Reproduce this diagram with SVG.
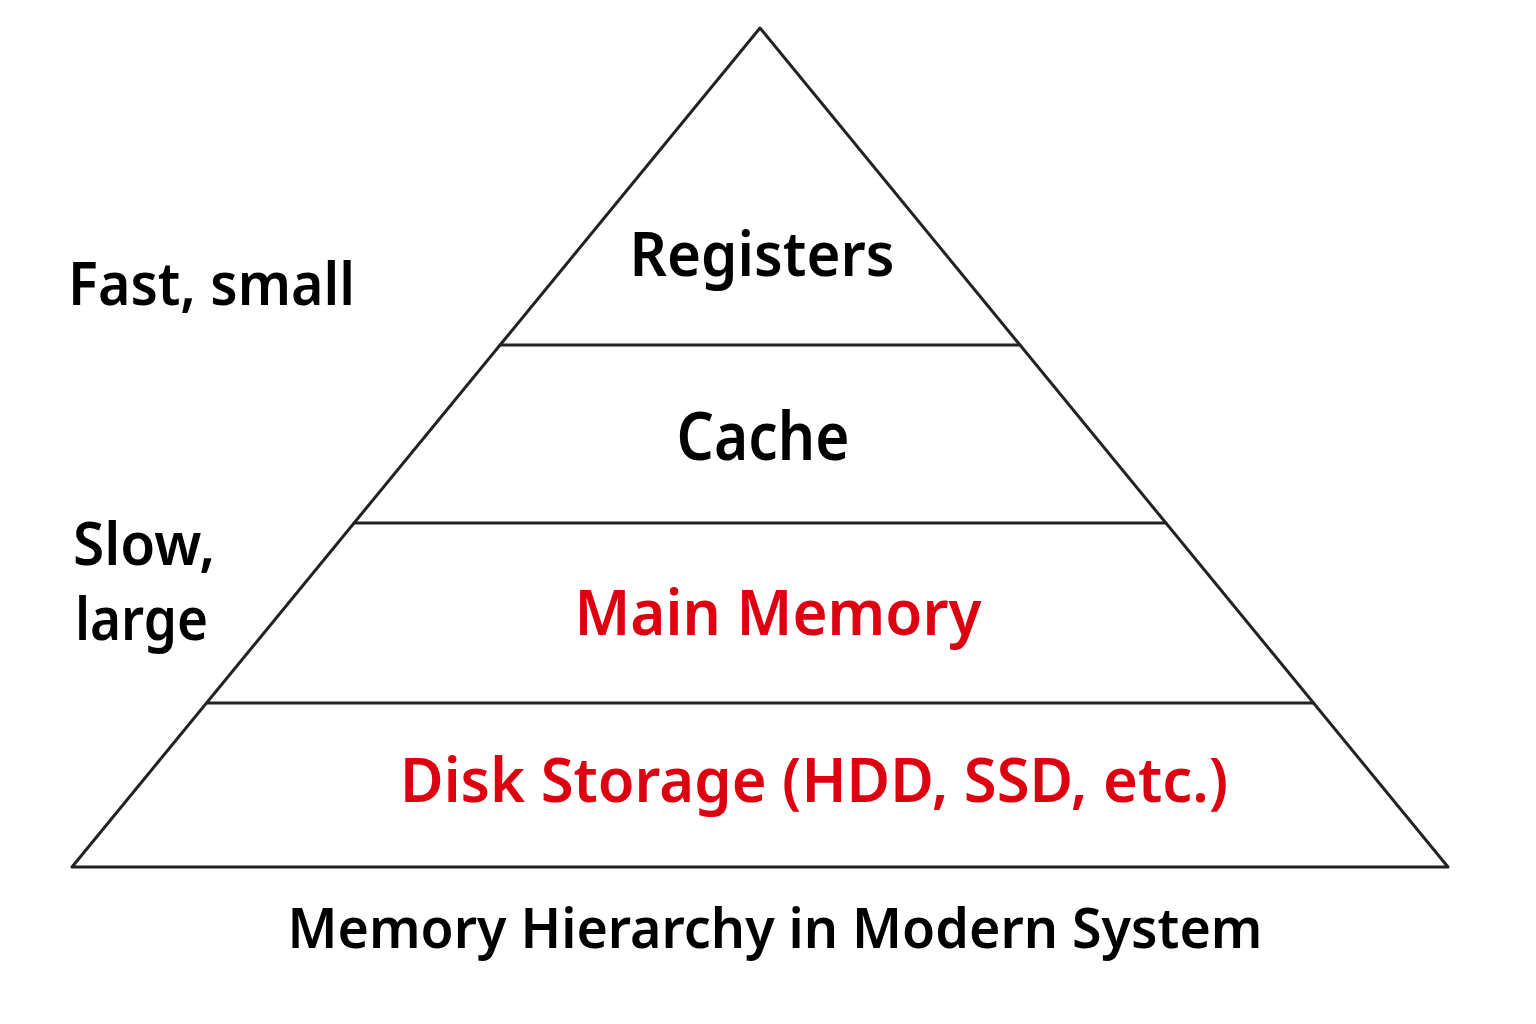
<svg xmlns="http://www.w3.org/2000/svg" width="1536" height="1024" viewBox="0 0 1536 1024">
<style>
.t{font-family:"Noto Sans","Open Sans","DejaVu Sans",sans-serif;font-weight:600;fill:#000}
.r{fill:#dd0010}
.m{text-anchor:middle}
.ln{stroke:#222;stroke-width:3;fill:none;stroke-linecap:round;stroke-linejoin:round}
</style>
<rect width="1536" height="1024" fill="#fff"/>
<g id="pyramid">
<polygon class="ln" points="760,28 72,867 1448,867"/>
</g>
<g id="connectors">
<line class="ln" x1="500" y1="345" x2="1020" y2="345"/>
<line class="ln" x1="354" y1="523" x2="1166" y2="523"/>
<line class="ln" x1="207" y1="703" x2="1313" y2="703"/>
</g>
<g id="registers"><text class="t m" x="762" y="276" font-size="62" textLength="265" lengthAdjust="spacingAndGlyphs">Registers</text></g>
<g id="cache"><text class="t m" x="763" y="460" font-size="66" textLength="173" lengthAdjust="spacingAndGlyphs">Cache</text></g>
<g id="main-memory"><text class="t r m" x="778" y="635" font-size="64" textLength="407" lengthAdjust="spacingAndGlyphs">Main Memory</text></g>
<g id="disk-storage"><text class="t r m" x="814" y="802" font-size="62" textLength="828" lengthAdjust="spacingAndGlyphs">Disk Storage (HDD, SSD, etc.)</text></g>
<g id="fast-small"><text class="t" x="68" y="305" font-size="60" textLength="287" lengthAdjust="spacingAndGlyphs">Fast, small</text></g>
<g id="slow-large"><text class="t" x="73" y="565" font-size="60" textLength="142" lengthAdjust="spacingAndGlyphs">Slow,</text><text class="t" x="75" y="640" font-size="60" textLength="133" lengthAdjust="spacingAndGlyphs">large</text></g>
<g id="title"><text class="t m" x="775" y="948" font-size="56" textLength="975" lengthAdjust="spacingAndGlyphs">Memory Hierarchy in Modern System</text></g>
</svg>
